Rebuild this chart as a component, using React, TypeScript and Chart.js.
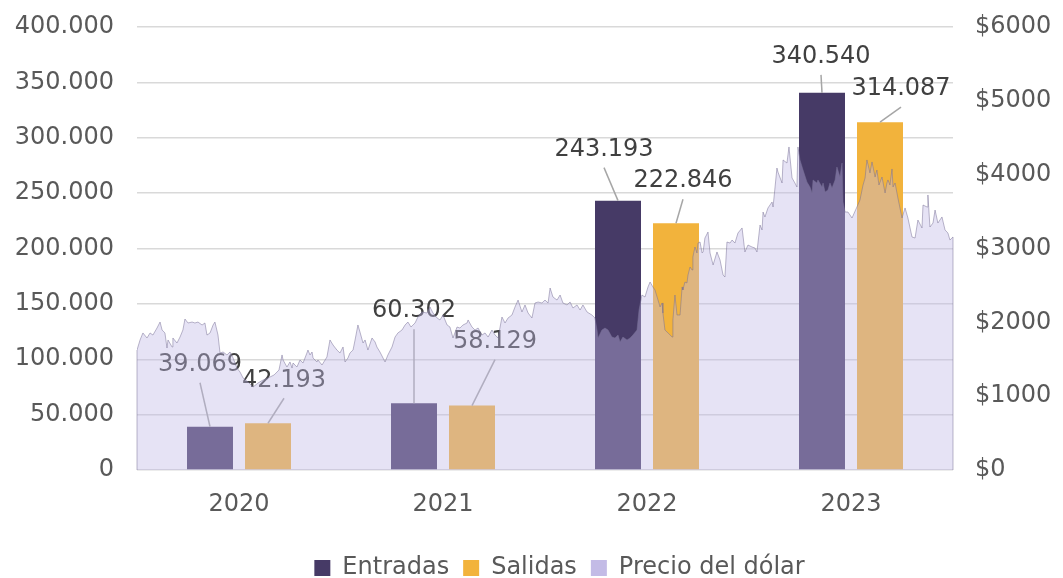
import React, { useEffect, useRef } from 'react';
import { Chart, registerables } from 'chart.js';

Chart.register(...registerables);

// ---- Data ----
const years = ['2020', '2021', '2022', '2023'];
const entradas = [39069, 60302, 243193, 340540];
const salidas = [42193, 58129, 222846, 314087];
const yLeftMax = 400000;
const yLeftStep = 50000;
const yRightMax = 6000;
const yRightStep = 1000;

// Precio del dólar (decimal year, price)
const priceYear = [
  2020.000, 2020.015, 2020.029, 2020.049, 2020.064, 2020.078, 2020.098, 2020.113, 2020.123, 2020.137,
  2020.147, 2020.152, 2020.172, 2020.176, 2020.196, 2020.211, 2020.225, 2020.235, 2020.250, 2020.270,
  2020.284, 2020.299, 2020.319, 2020.333, 2020.343, 2020.358, 2020.373, 2020.382, 2020.397, 2020.407,
  2020.422, 2020.441, 2020.456, 2020.471, 2020.490, 2020.505, 2020.520, 2020.544, 2020.569, 2020.593,
  2020.618, 2020.642, 2020.672, 2020.696, 2020.711, 2020.716, 2020.735, 2020.750, 2020.760, 2020.765,
  2020.784, 2020.799, 2020.814, 2020.833, 2020.838, 2020.848, 2020.858, 2020.863, 2020.882, 2020.887,
  2020.907, 2020.922, 2020.931, 2020.946, 2020.961, 2020.980, 2020.995, 2021.010, 2021.020, 2021.034,
  2021.044, 2021.059, 2021.069, 2021.083, 2021.093, 2021.108, 2021.118, 2021.132, 2021.152, 2021.167,
  2021.176, 2021.191, 2021.216, 2021.230, 2021.250, 2021.265, 2021.279, 2021.299, 2021.314, 2021.328,
  2021.343, 2021.363, 2021.377, 2021.397, 2021.422, 2021.436, 2021.451, 2021.471, 2021.485, 2021.500,
  2021.520, 2021.534, 2021.549, 2021.569, 2021.583, 2021.598, 2021.618, 2021.623, 2021.642, 2021.657,
  2021.672, 2021.691, 2021.706, 2021.721, 2021.740, 2021.755, 2021.770, 2021.789, 2021.804, 2021.819,
  2021.838, 2021.853, 2021.868, 2021.887, 2021.902, 2021.917, 2021.936, 2021.951, 2021.966, 2021.985,
  2022.000, 2022.015, 2022.025, 2022.039, 2022.059, 2022.074, 2022.088, 2022.108, 2022.123, 2022.137,
  2022.157, 2022.172, 2022.186, 2022.206, 2022.230, 2022.245, 2022.255, 2022.260, 2022.279, 2022.294,
  2022.309, 2022.328, 2022.343, 2022.358, 2022.368, 2022.382, 2022.402, 2022.417, 2022.431, 2022.451,
  2022.461, 2022.475, 2022.490, 2022.505, 2022.515, 2022.529, 2022.539, 2022.554, 2022.564, 2022.574,
  2022.578, 2022.588, 2022.603, 2022.623, 2022.627, 2022.637, 2022.647, 2022.662, 2022.672, 2022.676,
  2022.686, 2022.696, 2022.701, 2022.711, 2022.721, 2022.725, 2022.735, 2022.745, 2022.750, 2022.760,
  2022.770, 2022.775, 2022.784, 2022.799, 2022.809, 2022.824, 2022.843, 2022.858, 2022.873, 2022.882,
  2022.892, 2022.907, 2022.917, 2022.931, 2022.946, 2022.966, 2022.980, 2022.995, 2023.015, 2023.029,
  2023.039, 2023.054, 2023.064, 2023.069, 2023.078, 2023.093, 2023.113, 2023.118, 2023.137, 2023.142,
  2023.162, 2023.167, 2023.186, 2023.196, 2023.211, 2023.225, 2023.235, 2023.240, 2023.250, 2023.265,
  2023.284, 2023.299, 2023.309, 2023.314, 2023.333, 2023.338, 2023.358, 2023.363, 2023.373, 2023.387,
  2023.397, 2023.407, 2023.422, 2023.431, 2023.446, 2023.456, 2023.461, 2023.471, 2023.485, 2023.505,
  2023.529, 2023.544, 2023.559, 2023.569, 2023.578, 2023.593, 2023.603, 2023.618, 2023.627, 2023.637,
  2023.652, 2023.667, 2023.676, 2023.681, 2023.691, 2023.701, 2023.706, 2023.716, 2023.730, 2023.750,
  2023.765, 2023.779, 2023.799, 2023.814, 2023.828, 2023.848, 2023.853, 2023.873, 2023.877, 2023.887,
  2023.902, 2023.912, 2023.926, 2023.946, 2023.961, 2023.975, 2023.985, 2024.000,
];
const priceValue = [
  1625, 1761, 1856, 1788, 1856, 1828, 1923, 2004, 1896, 1856,
  1652, 1761, 1666, 1788, 1720, 1801, 1896, 2045, 1991, 2004,
  1991, 2004, 1964, 1991, 1828, 1856, 1964, 2004, 1828, 1585,
  1598, 1558, 1598, 1517, 1381, 1327, 1246, 1192, 1124, 1178,
  1219, 1246, 1287, 1354, 1558, 1490, 1395, 1463, 1381, 1449,
  1395, 1490, 1449, 1585, 1625, 1558, 1598, 1517, 1463, 1490,
  1422, 1490, 1530, 1761, 1693, 1625, 1585, 1666, 1463, 1517,
  1585, 1625, 1761, 1964, 1869, 1720, 1761, 1625, 1788, 1734,
  1666, 1598, 1463, 1558, 1666, 1801, 1856, 1896, 1964, 2004,
  1937, 1991, 2072, 2140, 2126, 2208, 2126, 2059, 2032, 2099,
  1964, 1937, 1788, 1937, 1923, 1964, 1991, 2032, 1937, 1896,
  1923, 1828, 1856, 1801, 1896, 1828, 1788, 2072, 1991, 2059,
  2099, 2208, 2302, 2140, 2235, 2126, 2059, 2262, 2275, 2262,
  2302, 2262, 2465, 2343, 2302, 2370, 2262, 2235, 2275, 2194,
  2235, 2167, 2235, 2140, 2099, 2059, 1896, 1788, 1896, 1923,
  1896, 1801, 1788, 1828, 1734, 1801, 1761, 1788, 1828, 1896,
  2167, 2370, 2343, 2479, 2546, 2479, 2438, 2302, 2208, 2262,
  2126, 1896, 1856, 1801, 2032, 2370, 2099, 2099, 2479, 2438,
  2546, 2533, 2641, 2749, 2709, 2885, 3020, 2939, 3074, 3088,
  2939, 2953, 3142, 3223, 2939, 2777, 2953, 2844, 2641, 2614,
  3088, 3074, 3115, 3074, 3210, 3278, 2953, 3047, 3020, 3007,
  2953, 3318, 3251, 3494, 3427, 3549, 3630, 3562, 4090, 4036,
  3887, 4199, 4158, 4375, 3955, 3887, 3833, 4375, 4199, 4063,
  3901, 3833, 3752, 3928, 3887, 3928, 3833, 3887, 3765, 3792,
  3887, 3819, 3928, 4104, 3968, 4158, 3630, 3494, 3494, 3413,
  3562, 3657, 3860, 3955, 4199, 4023, 4172, 3968, 4063, 3860,
  3968, 3752, 3887, 3928, 3860, 4077, 3833, 3887, 3684, 3413,
  3549, 3413, 3156, 3142, 3386, 3278, 3589, 3562, 3725, 3291,
  3345, 3521, 3345, 3427, 3251, 3210, 3115, 3156,
];

// ---- Styles ----
const FONT = 'DejaVu Sans';
const COLOR_ENTRADAS = '#463a66';
const COLOR_SALIDAS = '#f2b33c';
const COLOR_AREA = 'rgba(192, 185, 230, 0.4)';
const COLOR_AREA_LINE = 'rgba(120, 112, 150, 0.5)';
const COLOR_AREA_SWATCH = '#c3bbe6';
const AXIS_TEXT = '#595959';
const LABEL_TEXT = '#404040';
const CLEAR = 'rgba(0,0,0,0)';

// label offsets (px) from the top-centre of each bar
const labelOffsets = [
  [[-10, -62], [0, -92], [-14, -51], [-1, -36]],
  [[16, -43], [23, -64], [7, -42], [21, -33]],
];

const fmt = (n: number) => String(Math.round(n)).replace(/\B(?=(\d{3})+(?!\d))/g, '.');

const barLabelPlugin = {
  id: 'barLabels',
  afterDatasetDraw(chart: any, args: any) {
    const meta = args.meta;
    const ctx = chart.ctx;
    if (meta.type === 'bar') {
      const offs = labelOffsets[args.index];
      const vals = args.index === 0 ? entradas : salidas;
      ctx.save();
      meta.data.forEach((el: any, i: number) => {
        const { x, y } = el.getProps(['x', 'y'], true);
        const [dx, dy] = offs[i];
        const lx = x + dx;
        const ly = y + dy;
        ctx.strokeStyle = '#a6a6a6';
        ctx.lineWidth = 1.5;
        ctx.beginPath();
        ctx.moveTo(lx, ly + 18);
        ctx.lineTo(x, y);
        ctx.stroke();
        ctx.fillStyle = LABEL_TEXT;
        ctx.font = `24px "${FONT}"`;
        ctx.textAlign = 'center';
        ctx.textBaseline = 'middle';
        ctx.fillText(fmt(vals[i]), lx, ly);
      });
      ctx.restore();
    } else if (meta.type === 'line') {
      const pts = meta.data;
      if (!pts.length) return;
      const y0 = chart.scales.y1.getPixelForValue(0);
      ctx.save();
      ctx.strokeStyle = COLOR_AREA_LINE;
      ctx.lineWidth = 1;
      ctx.beginPath();
      const a = pts[0];
      const b = pts[pts.length - 1];
      ctx.moveTo(a.x, a.y);
      ctx.lineTo(a.x, y0);
      ctx.moveTo(b.x, b.y);
      ctx.lineTo(b.x, y0);
      ctx.stroke();
      ctx.restore();
    }
  },
};

// shift legend so it sits centred like the original
const legendShiftPlugin = {
  id: 'legendShift',
  afterLayout(chart: any) {
    const lg = chart.legend;
    if (lg) {
      lg.left += 27;
      lg.right += 27;
    }
  },
};

export default function App() {
  const ref = useRef<HTMLCanvasElement | null>(null);

  useEffect(() => {
    document.body.style.margin = '0';
    document.body.style.overflow = 'hidden';
    const canvas = ref.current;
    if (!canvas) return;

    Chart.defaults.font.family = FONT;
    Chart.defaults.font.size = 24;
    Chart.defaults.color = AXIS_TEXT;

    const chart = new Chart(canvas, {
      type: 'bar',
      data: {
        datasets: [
          {
            type: 'bar',
            label: 'Entradas',
            data: years.map((y, i) => ({ x: Number(y) + 0.5, y: entradas[i] })),
            backgroundColor: COLOR_ENTRADAS,
            xAxisID: 'x',
            yAxisID: 'y',
            order: 1,
            categoryPercentage: 0.5686,
            barPercentage: 0.793,
          },
          {
            type: 'bar',
            label: 'Salidas',
            data: years.map((y, i) => ({ x: Number(y) + 0.5, y: salidas[i] })),
            backgroundColor: COLOR_SALIDAS,
            xAxisID: 'x',
            yAxisID: 'y',
            order: 1,
            categoryPercentage: 0.5686,
            barPercentage: 0.793,
          },
          {
            type: 'line',
            label: 'Precio del dólar',
            data: priceYear.map((x, i) => ({ x, y: priceValue[i] })),
            xAxisID: 'x',
            yAxisID: 'y1',
            order: 0,
            fill: 'origin',
            backgroundColor: COLOR_AREA,
            borderColor: COLOR_AREA_LINE,
            borderWidth: 1,
            pointRadius: 0,
            tension: 0,
          } as any,
        ],
      },
      options: {
        responsive: false,
        animation: false,
        events: [],
        layout: { padding: { left: 2, right: 0, top: 27, bottom: 0 } },
        scales: {
          x: {
            type: 'linear',
            position: 'bottom',
            min: Number(years[0]),
            max: Number(years[years.length - 1]) + 1,
            offset: false,
            grid: { display: false },
            border: { display: false },
            afterBuildTicks: (s: any) => {
              s.ticks = years.map((y) => ({ value: Number(y) + 0.5 }));
            },
            ticks: {
              padding: 12,
              autoSkip: false,
              maxRotation: 0,
              color: AXIS_TEXT,
              font: { size: 24, family: FONT },
              callback: (_v: any, i: number) => years[i],
            },
            afterFit: (s: any) => { s.height = 72; },
          },
          y: {
            position: 'left',
            min: 0,
            max: yLeftMax,
            grid: { color: '#d9d9d9', lineWidth: 1.5, drawTicks: true, tickLength: 23, tickColor: CLEAR },
            border: { display: false },
            ticks: {
              stepSize: yLeftStep,
              padding: 0,
              color: AXIS_TEXT,
              font: { size: 24, family: FONT },
              callback: (v: any) => fmt(Number(v)),
            },
            afterFit: (s: any) => { s.width = 135; },
          },
          y1: {
            position: 'right',
            min: 0,
            max: yRightMax,
            grid: { drawOnChartArea: false, drawTicks: true, tickLength: 22, tickColor: CLEAR },
            border: { display: false },
            ticks: {
              stepSize: yRightStep,
              padding: 0,
              color: AXIS_TEXT,
              font: { size: 24, family: FONT },
              callback: (v: any) => '$' + v,
            },
            afterFit: (s: any) => { s.width = 110; },
          },
        },
        plugins: {
          tooltip: { enabled: false },
          legend: {
            position: 'bottom',
            maxHeight: 36,
            labels: {
              boxWidth: 16,
              boxHeight: 16,
              padding: 14,
              color: AXIS_TEXT,
              font: { size: 24, family: FONT },
              sort: (a: any, b: any) => a.datasetIndex - b.datasetIndex,
              generateLabels: (c: any) => {
                const items = Chart.defaults.plugins.legend.labels.generateLabels(c);
                items.forEach((it: any) => {
                  it.lineWidth = 0;
                  it.strokeStyle = CLEAR;
                  if (it.datasetIndex === 2) it.fillStyle = COLOR_AREA_SWATCH;
                });
                return items;
              },
            },
          } as any,
        },
      } as any,
      plugins: [barLabelPlugin, legendShiftPlugin],
    });

    return () => chart.destroy();
  }, []);

  return (
    <div style={{ width: 1063, height: 578 }}>
      <canvas ref={ref} width={1063} height={578} style={{ display: 'block' }} />
    </div>
  );
}
